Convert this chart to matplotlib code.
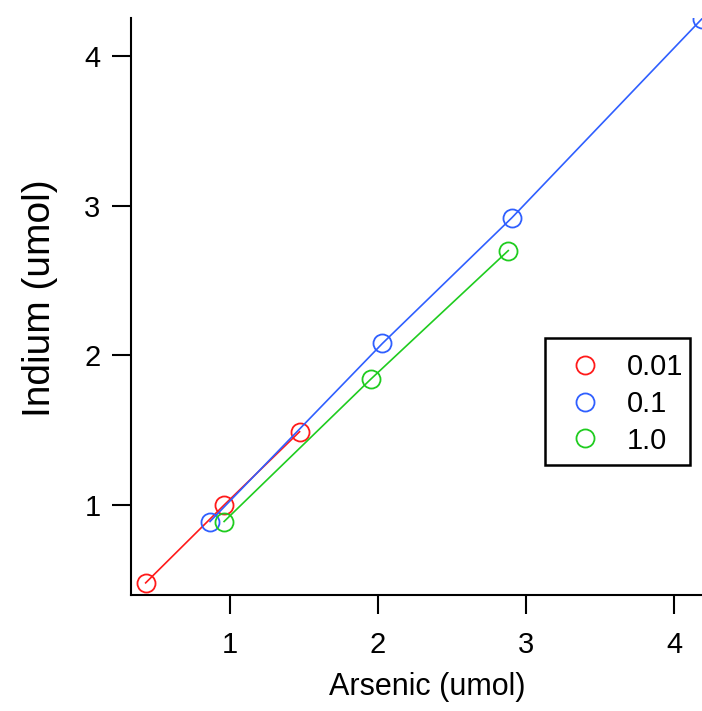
import matplotlib
matplotlib.use("Agg")
import matplotlib.pyplot as plt
from matplotlib.lines import Line2D
from matplotlib.patches import Rectangle

plt.rcParams['font.family'] = ['Liberation Sans', 'DejaVu Sans']

# Indium vs arsenic amounts for three concentration series
labels = ["0.01", "0.1", "1.0"]
colors = ["#ff1a1a", "#2f5fff", "#1fcc1f"]

arsenic_001 = [0.43, 0.96, 1.47]
indium_001 = [0.48, 1.00, 1.49]

arsenic_01 = [0.865, 2.03, 2.905, 4.19]
indium_01 = [0.89, 2.08, 2.92, 4.25]

arsenic_10 = [0.96, 1.95, 2.88]
indium_10 = [0.89, 1.84, 2.70]

series = [(arsenic_001, indium_001), (arsenic_01, indium_01), (arsenic_10, indium_10)]

fig = plt.figure(figsize=(7.02, 7.11), dpi=100)
W, H = 702, 711
ax = fig.add_axes([131 / W, (H - 595) / H, (702 - 131) / W, (595 - 18) / H])

for (xs, ys), c in zip(series, colors):
    ax.plot(xs, ys, color=c, lw=1.2, marker='o', ms=13, mfc='none', mec=c, mew=1.3,
            clip_on=True)

ax.set_xlim(0.331, 4.189)
ax.set_ylim(0.399, 4.254)
ax.set_xticks([1, 2, 3, 4])
ax.set_yticks([1, 2, 3, 4])
ax.spines['top'].set_visible(False)
ax.spines['right'].set_visible(False)
for s in ('left', 'bottom'):
    ax.spines[s].set_linewidth(1.5)
ax.tick_params(direction='out', length=14, width=1.5, labelsize=21)
ax.tick_params(axis='x', pad=12)
ax.tick_params(axis='y', pad=8)

ax.set_xlabel("Arsenic (umol)", fontsize=22)
ax.xaxis.set_label_coords((427 - 131) / 571, -(672 - 595) / 577)
ax.set_ylabel("Indium (umol)", fontsize=28)
ax.yaxis.set_label_coords(-(131 - 58) / 571, (595 - 298) / 577)

# legend: boxed key with marker-only handles
ax.add_patch(Rectangle((545 / W, 1 - 465 / H), (690 - 545) / W, (465 - 338) / H,
                       transform=fig.transFigure, facecolor='white',
                       edgecolor='black', lw=1.8, zorder=4, clip_on=False))
handles = [Line2D([], [], ls='none', marker='o', ms=13, mfc='none', mec=c, mew=1.3)
           for c in colors]
leg = ax.legend(handles, labels, loc='upper left',
                bbox_to_anchor=(553 / W, 1 - 353 / H), bbox_transform=fig.transFigure,
                fontsize=21, frameon=False,
                handlelength=2.19, handletextpad=0.34, borderpad=0, labelspacing=0.3,
                borderaxespad=0)
leg.set_zorder(5)

fig.savefig("out.png", dpi=100)
